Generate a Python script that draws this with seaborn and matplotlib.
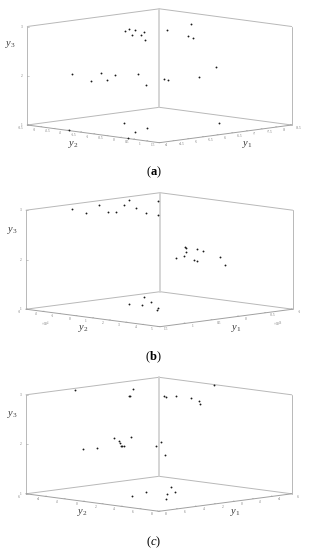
#3d scatter of the three panels, drawn on one big pixel axes with an oblique projection

import pandas as pd
import matplotlib
matplotlib.use('Agg')
import matplotlib.pyplot as plt
import seaborn as sns

sns.set_style('white')
plt.rcParams['font.family'] = ['Liberation Serif', 'DejaVu Sans']
plt.rcParams['mathtext.fontset'] = 'custom'
plt.rcParams['mathtext.rm'] = 'Liberation Serif'
plt.rcParams['mathtext.it'] = 'Liberation Serif:italic'
plt.rcParams['mathtext.bf'] = 'Liberation Serif:bold'

# panel a
a_y1 = [-5.94, -4.94, -5.61, -7.52, -4.11, -4.05,
        -5.01, -4.40, -5.55, -4.80, -5.62, -6.14, -4.87, -5.95, -5.80, -6.80, -8.27,
        -5.16, -5.47, -4.72, -5.37, -4.82, -5.35, -4.26, -5.95, -5.54, -5.33, -7.09]
a_y2 = [-2.00, -0.47, -0.77, -0.155, -2.06, 0.23,
        -2.94, -1.55, -2.43, -1.38, -1.98, -1.69, 0.02, -0.49, -0.17, -0.11, -1.11,
        -1.08, -1.30, -0.34, -0.94, -0.13, -0.58, 0.66, -0.39, 0.86, 1.28, -0.73]
a_y3 = [1]*6 + [2]*11 + [3]*11

# panel b
b_y1 = [0.17, -0.47, 0.14, -0.16, 0.33, 0.18,
        0.00, -0.27, -0.89, -0.80, -0.54, -0.05, -0.03, -0.84, -0.75, -0.49, 0.02,
        0.965, 1.14, 0.42, 0.84, 0.79, 0.24, -0.17, 0.31, 0.58, -0.37, 0.58]
b_y2 = [-1.10, -2.26, -0.38, -0.82, 1.12, 0.70,
        1.19, 0.83, -1.14, -0.81, 0.03, 2.10, 2.34, -0.23, 0.38, 2.29, 4.19,
        -1.98, -0.55, -2.07, -0.21, 0.11, -1.18, -2.16, -0.19, 1.25, -1.06, 2.00]
b_y3 = [1]*6 + [2]*11 + [3]*11

# panel c
c_y1 = [3.31, 1.08, -2.35, 0.48, -0.43, 2.68,
        6.98, 5.83, 0.83, 1.63, 2.37, 3.66, 3.60, 3.52, -0.32, 1.67, -0.16, 4.82,
        3.37, -0.08, 2.83, 3.18, 1.32, 1.36, 0.72, 0.57, 1.49, 2.64, -5.82]
c_y2 = [0.43, -0.29, -1.11, 1.39, 1.22, 3.45,
        -0.97, -0.64, -3.91, -2.56, -1.70, -0.33, -0.26, -0.18, -3.27, 1.39, 0.05, 5.45,
        -5.50, -2.85, -0.16, 0.02, 1.88, 2.11, 2.48, 3.97, 5.70, 6.96, -0.05]
c_y3 = [1]*6 + [2]*12 + [3]*11

# tick labels
a_y1_ticks = [-4, -4.5, -5, -5.5, -6, -6.5, -7, -7.5, -8, -8.5]
a_y2_ticks = [-3.5, -3, -2.5, -2, -1.5, -1, -0.5, 0, 0.5, 1, 1.5]
b_y1_ticks = [1.5, 1, 0.5, 0, -0.5, -1]
b_y2_ticks = [-3, -2, -1, 0, 1, 2, 3, 4, 5]
c_y1_ticks = [8, 6, 4, 2, 0, -2, -4, -6]
c_y2_ticks = [-6, -4, -2, 0, 2, 4, 6, 8]
y3_ticks = [1, 2, 3]

wall = '#b8b8b8'
edge = '#a0a0a0'
back = '#d2d2d2'
tick_text = '#777777'
name_text = '#3a3a3a'

fig = plt.figure(figsize=(3.09, 5.5), dpi=100)
ax = fig.add_axes([0, 0, 1, 1])


def draw_panel(y1, y2, y3, y1_ticks, y2_ticks, bx, by, lx, rx, fy, top, names, offsets, title, y0):
    # corner pixels: bx,by back bottom / lx,rx left and right / fy front / top = height of the wall
    side = (by + fy) / 2
    y1a, y1b = y1_ticks[-1], y1_ticks[0]
    y2a, y2b = y2_ticks[0], y2_ticks[-1]

    def project(v1, v2, v3):
        a = (v1 - y1a) / (y1b - y1a)
        b = (v2 - y2a) / (y2b - y2a)
        c = (v3 - 1) / 2
        return (bx + a * (lx - bx) + b * (rx - bx),
                by + a * (side - by) + b * (side - by) - c * top)

    # box
    for p, q in [((lx, side - top), (bx, by - top)), ((bx, by - top), (rx, side - top)),
                 ((lx, side - top), (lx, side)), ((rx, side - top), (rx, side)),
                 ((lx, side), (bx, by)), ((bx, by), (rx, side))]:
        ax.plot([p[0], q[0]], [p[1], q[1]], color=wall, lw=0.7)
    ax.plot([bx, bx], [by - top, by], color=back, lw=1.3)
    ax.plot([lx, bx], [side, fy], color=edge, lw=0.7)
    ax.plot([bx, rx], [fy, side], color=edge, lw=0.7)

    # ticks and their labels
    for t in y2_ticks:
        x, y = project(y1b, t, 1)
        ax.plot([x, x + 1.5], [y, y - 0.4], color=edge, lw=0.4)
        ax.text(x - 6.5, y + 2.8, str(t), fontsize=2.6, color=tick_text, ha='center', va='center')
    for t in y1_ticks:
        x, y = project(t, y2b, 1)
        ax.plot([x, x - 1.5], [y, y - 0.4], color=edge, lw=0.4)
        ax.text(x + 7, y + 2.8, str(t), fontsize=2.6, color=tick_text, ha='center', va='center')
    for t in y3_ticks:
        y = side - (t - 1) / 2 * top
        ax.plot([lx, lx + 1.5], [y, y], color=edge, lw=0.4)
        ax.text(lx - 5.5, y, str(t), fontsize=2.6, color=tick_text, ha='center', va='center')

    pts = pd.DataFrame({'y1': y1, 'y2': y2, 'y3': y3})
    pts['px'], pts['py'] = project(pts['y1'], pts['y2'], pts['y3'])
    sns.scatterplot(data=pts, x='px', y='py', ax=ax, color='#1a1a1a', s=1.8, linewidth=0, zorder=3)

    # axis names
    for (x, y), label in zip(names, [r'$y_3$', r'$y_2$', r'$y_1$']):
        ax.text(x, y0 + y, label, fontsize=7.5, color=name_text, ha='center', va='center')
    if offsets:
        ax.text(46, y0 + 139.5, offsets[0], fontsize=2.6, color=tick_text, ha='center', va='center')
        ax.text(278, y0 + 139.5, offsets[1], fontsize=2.6, color=tick_text, ha='center', va='center')
    ax.text(153.5, y0 + 172, title, fontsize=9, color='black', ha='center', va='center')


draw_panel(a_y1, a_y2, a_y3, a_y1_ticks, a_y2_ticks,
           159.3, 107.3, 27.3, 291.7, 142.7, 98.5,
           [(10.5, 44.5), (73, 144), (247, 145)], None, r'($\mathbf{a}$)', 0)
draw_panel(b_y1, b_y2, b_y3, b_y1_ticks, b_y2_ticks,
           160, 106.7 + 185, 26, 292.7, 141.7 + 185, 99,
           [(12.7, 45), (83, 144), (236, 143)], (r'$\times10^{4}$', r'$\times10^{16}$'), r'($\mathbf{b}$)', 185)
draw_panel(c_y1, c_y2, c_y3, c_y1_ticks, c_y2_ticks,
           159, 106.3 + 370, 26, 291.7, 141.3 + 370, 99,
           [(12.3, 44), (82.7, 143), (235, 142.5)], None, r'($\mathit{c}$)', 370)

ax.set_xlim(0, 309)
ax.set_ylim(550, 0)
ax.axis('off')
fig.savefig('out.png', dpi=100)
